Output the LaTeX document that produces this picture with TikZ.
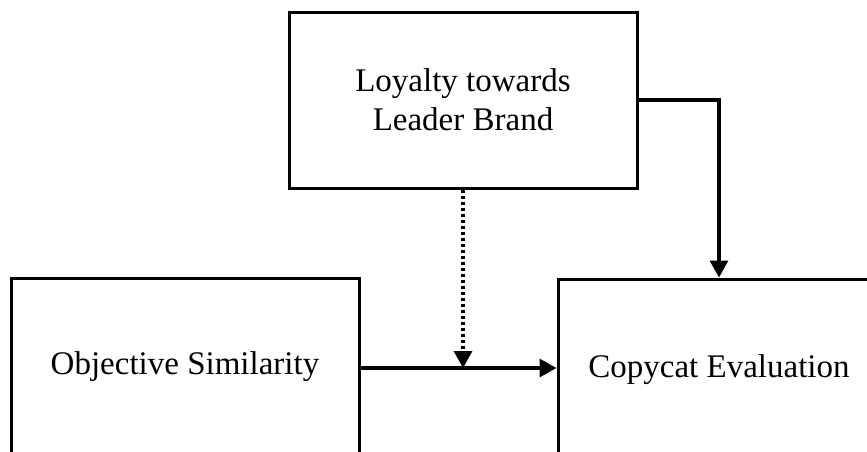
\documentclass[tikz,border=0pt]{standalone}
\usepackage{fontspec}
\setmainfont{Liberation Serif}
\usepackage{tikz}
\usetikzlibrary{arrows.meta}

\tikzset{
	box/.style={draw,line width=3pt,align=center,font=\fontsize{33}{39}\selectfont},
	link/.style={line width=3.2pt,-{Triangle[length=17pt,width=18pt]}}
}

\begin{document}
\begin{tikzpicture}[x=1pt,y=-1pt]
		\useasboundingbox (0,0) rectangle (867,451);
		\fill[white] (0,0) rectangle (867,451);
		\clip (0,0) rectangle (867,451);
		\node[box,minimum width=348pt,minimum height=176pt] (loyal) at (463,100) {Loyalty towards\\Leader Brand};
		\node[box,minimum width=348pt,minimum height=178pt] (objsim) at (185,367) {Objective Similarity};
		\node[box,minimum width=322pt,minimum height=182pt] (copycat) at (719,370) {Copycat Evaluation};
		\coordinate (meet) at (loyal.south |- 0,368);
		\draw[link] (objsim.east |- meet) -- (copycat.west |- meet);
		\draw[link,dash pattern=on 3pt off 3pt] (loyal.south) -- (meet);
		\draw[link] (loyal.east) -| (copycat.north);
	\end{tikzpicture}
\end{document}
